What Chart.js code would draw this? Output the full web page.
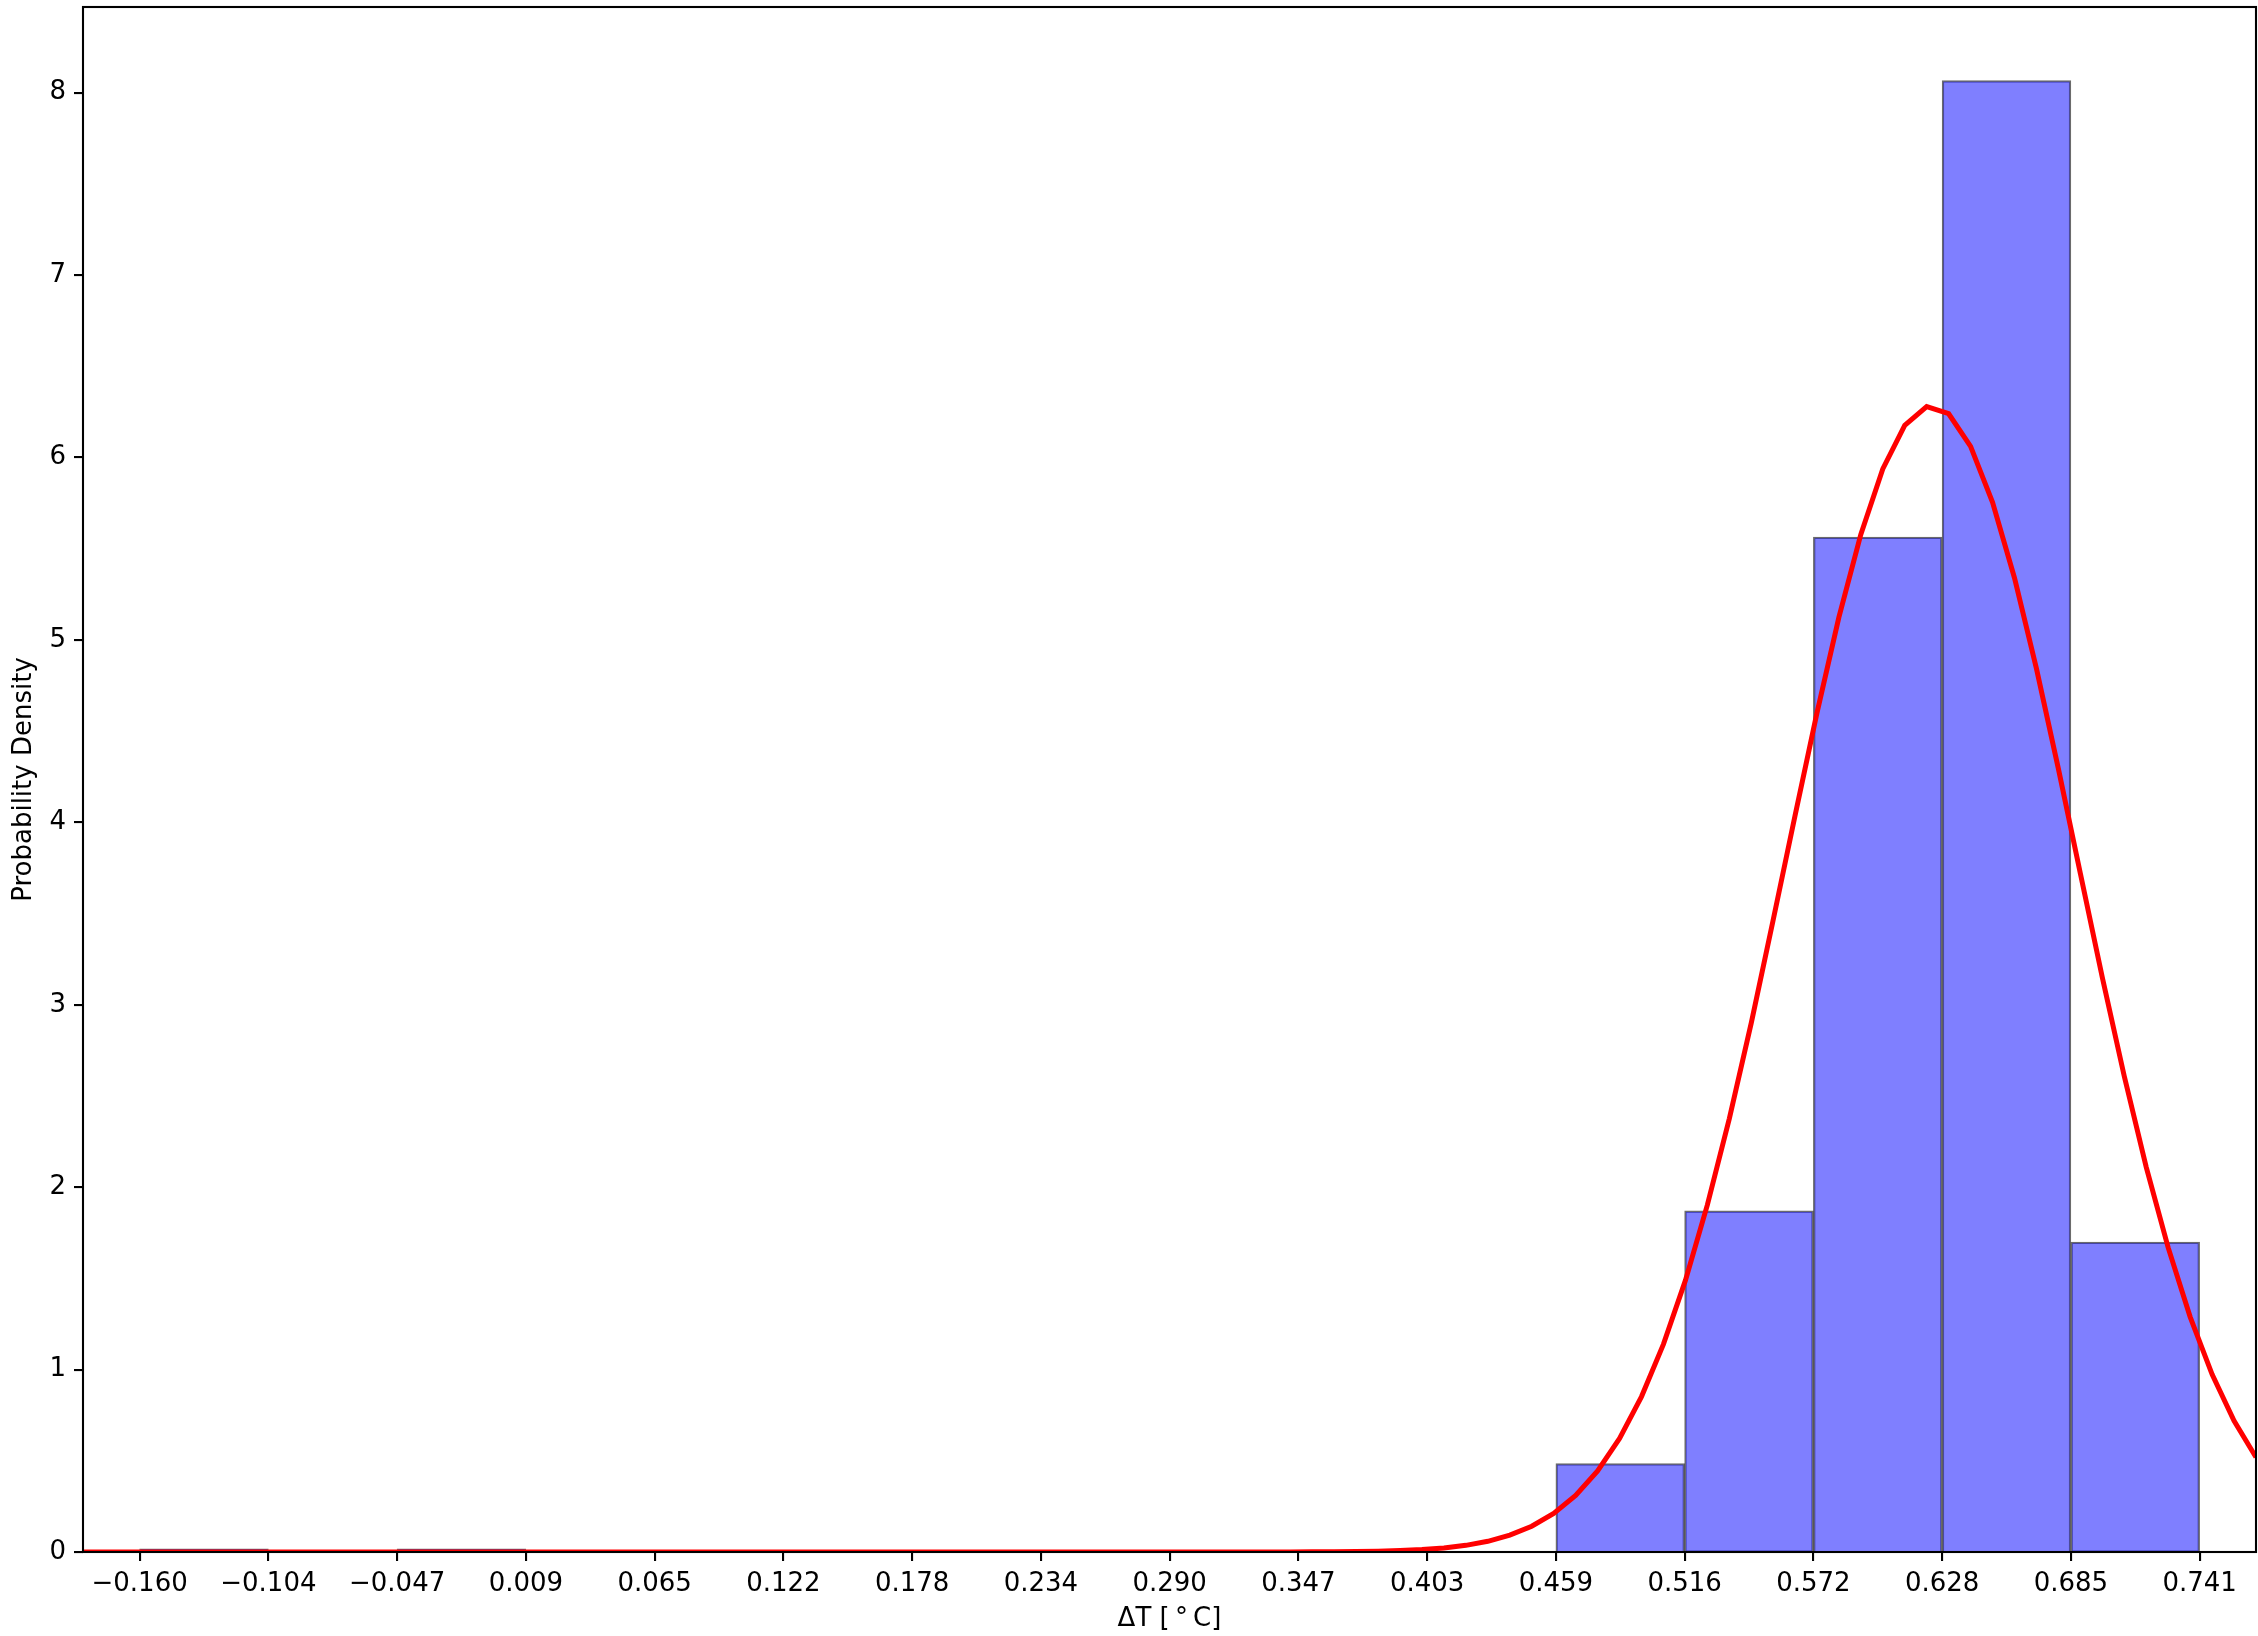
<!DOCTYPE html>
<html>
<head>
<meta charset="utf-8">
<script src="https://cdn.jsdelivr.net/npm/chart.js@4/dist/chart.umd.min.js"></script>
<style>
html,body{margin:0;padding:0;background:#fff;}
#wrap{width:2258px;height:1636px;position:relative;}
</style>
</head>
<body>
<div id="wrap"><canvas id="c" width="2258" height="1636"></canvas></div>
<script>
// Histogram bin edges (ΔT, °C)
const binEdges = [-0.15995, -0.10365, -0.04735, 0.00895, 0.06525, 0.12155, 0.17785, 0.23415,
                  0.29045, 0.34675, 0.40305, 0.45935, 0.51565, 0.57195, 0.62825, 0.68455, 0.74085];
// Probability density per bin
const binDensity = [0.018, 0, 0.018, 0, 0, 0, 0, 0, 0, 0, 0, 0.485, 1.871, 5.564, 8.067, 1.699];
// X tick labels (bin edges)
const xTickLabels = ['\u22120.160','\u22120.104','\u22120.047','0.009','0.065','0.122','0.178','0.234',
                     '0.290','0.347','0.403','0.459','0.516','0.572','0.628','0.685','0.741'];
const yTicks = [0, 1, 2, 3, 4, 5, 6, 7, 8];
const yTickLabels = ['0','1','2','3','4','5','6','7','8'];
// Fitted curve (red)
const curveX = [-0.1847, 0.3432, 0.3528, 0.3624, 0.3720, 0.3816, 0.3912, 0.4008, 0.4104, 0.4200,
                0.4296, 0.4392, 0.4488, 0.4584, 0.4680, 0.4776, 0.4872, 0.4968, 0.5064, 0.5160,
                0.5256, 0.5352, 0.5448, 0.5543, 0.5639, 0.5735, 0.5831, 0.5927, 0.6023, 0.6119,
                0.6215, 0.6311, 0.6407, 0.6503, 0.6599, 0.6695, 0.6791, 0.6887, 0.6983, 0.7079,
                0.7175, 0.7271, 0.7367, 0.7463, 0.7559, 0.7655];
const curveY = [0, 0.0004, 0.0007, 0.0013, 0.0024, 0.0044, 0.0077, 0.0132, 0.0223, 0.0365,
                0.0587, 0.0922, 0.1413, 0.2119, 0.3104, 0.4448, 0.6227, 0.8520, 1.1395, 1.4891,
                1.9028, 2.3763, 2.9007, 3.4607, 4.0353, 4.5990, 5.1235, 5.5789, 5.9374, 6.1760,
                6.2794, 6.2402, 6.0611, 5.7541, 5.3397, 4.8429, 4.2932, 3.7197, 3.1500, 2.6079,
                2.1098, 1.6685, 1.2893, 0.9741, 0.7194, 0.5193];
const xMin = -0.1847, xMax = 0.7655;
const yMin = 0, yMax = 8.47;

const barData = binDensity.map((h, i) => ({x: (binEdges[i] + binEdges[i + 1]) / 2, y: h}));
const lineData = curveX.map((x, i) => ({x: x, y: curveY[i]}));

const FONT = 'DejaVu Sans';
const FS = 26;

const frame = {
  id: 'frame',
  afterDatasetsDraw(chart) {
    const a = chart.chartArea, ctx = chart.ctx;
    ctx.save();
    ctx.strokeStyle = '#000';
    ctx.lineWidth = 2.1;
    ctx.strokeRect(a.left, a.top, a.right - a.left, a.bottom - a.top);
    ctx.restore();
  }
};

new Chart(document.getElementById('c'), {
  type: 'bar',
  data: {
    datasets: [
      {
        type: 'line',
        data: lineData,
        borderColor: '#ff0000',
        borderWidth: 5,
        pointRadius: 0,
        tension: 0,
        fill: false,
        order: 0
      },
      {
        type: 'bar',
        data: barData,
        backgroundColor: 'rgba(0,0,255,0.5)',
        borderColor: 'rgba(0,0,0,0.58)',
        borderWidth: 1.6,
        barPercentage: 1.0,
        categoryPercentage: 1.0,
        order: 1
      }
    ]
  },
  options: {
    responsive: false,
    animation: false,
    devicePixelRatio: 1,
    layout: {padding: {top: 7, right: 2, left: 0, bottom: 0}},
    plugins: {legend: {display: false}, tooltip: {enabled: false}},
    scales: {
      x: {
        type: 'linear',
        min: xMin,
        max: xMax,
        offset: false,
        grid: {display: true, offset: false, drawOnChartArea: false, drawTicks: true,
               tickLength: 9, tickWidth: 2.1, tickColor: '#000', lineWidth: 2.1, color: '#000'},
        border: {display: false},
        afterBuildTicks: (s) => { s.ticks = binEdges.map(v => ({value: v})); },
        ticks: {
          autoSkip: false, maxRotation: 0, minRotation: 0, padding: 8,
          color: '#000', font: {family: FONT, size: FS},
          callback: (v, i) => xTickLabels[i]
        },
        title: {display: true, text: '\u0394T [\u2009\u00B0\u2009C]', color: '#000',
                font: {family: FONT, size: FS}, padding: {top: 0, bottom: 1}},
        afterFit: (s) => { s.height = 84; s.paddingLeft = 0; s.paddingRight = 0; }
      },
      y: {
        type: 'linear',
        min: yMin,
        max: yMax,
        grid: {display: true, drawOnChartArea: false, drawTicks: true,
               tickLength: 9, tickWidth: 2.1, tickColor: '#000', lineWidth: 2.1, color: '#000'},
        border: {display: false},
        afterBuildTicks: (s) => { s.ticks = yTicks.map(v => ({value: v})); },
        ticks: {
          padding: 8, color: '#000', font: {family: FONT, size: FS},
          callback: (v, i) => yTickLabels[i]
        },
        title: {display: true, text: 'Probability Density', color: '#000',
                font: {family: FONT, size: FS}, padding: {top: 9, bottom: 0}},
        afterFit: (s) => { s.width = 83; s.paddingTop = 0; s.paddingBottom = 0; }
      }
    }
  },
  plugins: [frame]
});
</script>
</body>
</html>
